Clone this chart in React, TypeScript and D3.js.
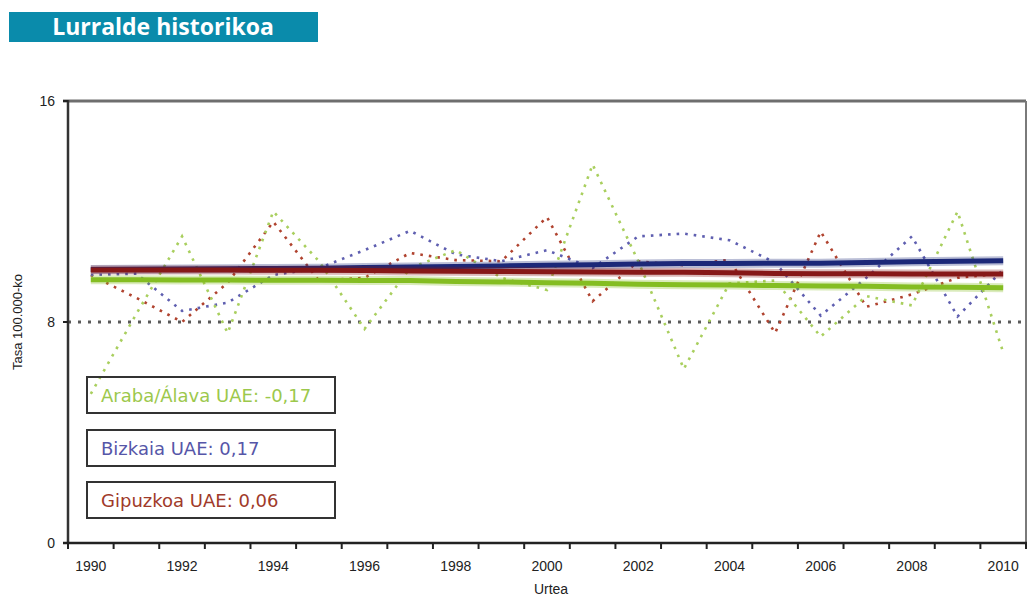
import React from "react";
import * as d3 from "d3";

const years = [1990,1991,1992,1993,1994,1995,1996,1997,1998,1999,2000,2001,2002,2003,2004,2005,2006,2007,2008,2009,2010];
const xTickLabels = [1990,1992,1994,1996,1998,2000,2002,2004,2006,2008,2010];
const yTickValues = [0, 8, 16];

const arabaRates = [5.4,8.3,11.1,7.6,12.0,10.2,7.75,9.95,10.6,9.6,9.16,13.7,10.2,6.3,9.4,9.5,7.47,8.94,8.6,12.0,6.9];
const bizkaiaRates = [9.7,9.75,8.4,8.7,9.7,9.95,10.6,11.3,10.45,10.2,10.6,9.95,11.1,11.2,10.96,10.15,8.23,9.6,11.1,8.2,9.9];
const gipuzkoaRates = [9.7,8.87,8.0,9.42,11.63,9.5,9.6,10.5,10.24,10.2,11.8,8.75,10.2,10.05,10.25,7.6,11.27,8.55,9.0,9.6,9.75];

const arabaTrend = [9.53,9.53,9.52,9.52,9.51,9.51,9.5,9.5,9.47,9.45,9.42,9.4,9.37,9.35,9.34,9.32,9.3,9.29,9.27,9.26,9.24];
const bizkaiaTrend = [9.9,9.91,9.92,9.93,9.94,9.95,9.97,9.99,10.01,10.03,10.05,10.07,10.1,10.12,10.12,10.13,10.13,10.15,10.18,10.2,10.22];
const gipuzkoaTrend = [9.88,9.88,9.88,9.88,9.87,9.87,9.86,9.85,9.84,9.83,9.82,9.81,9.8,9.8,9.78,9.76,9.75,9.75,9.74,9.74,9.74];

const referenceLevel = 8;

const legendLabels = ["Araba/Álava UAE: \u20110,17", "Bizkaia UAE: 0,17", "Gipuzkoa UAE: 0,06"];

const colors = {
  arabaDot: "#a9cf5e",
  bizkaiaDot: "#5f5fb0",
  gipuzkoaDot: "#b0432f",
  arabaTrend: "#84bd22",
  bizkaiaTrend: "#1c2878",
  gipuzkoaTrend: "#861818",
  arabaText: "#9cc84c",
  bizkaiaText: "#5656a8",
  gipuzkoaText: "#a03a2a",
};

export default function App() {
  const W = 1030, H = 597;
  const left = 68, right = 1026, top = 101, bottom = 543;
  const x = d3.scaleBand<number>().domain(years).range([left, right]).padding(0);
  const cx = (yr: number) => (x(yr) as number) + x.bandwidth() / 2;
  const y = d3.scaleLinear().domain([0, 16]).range([bottom, top]);
  const line = d3.line<number>().x((_, i) => cx(years[i])).y((d) => y(d));

  const boundaries = d3.range(years.length + 1).map((i) => left + i * x.bandwidth());

  const dotted = [
    { data: gipuzkoaRates, color: colors.gipuzkoaDot },
    { data: bizkaiaRates, color: colors.bizkaiaDot },
    { data: arabaRates, color: colors.arabaDot },
  ];
  const trends = [
    { data: arabaTrend, color: colors.arabaTrend },
    { data: bizkaiaTrend, color: colors.bizkaiaTrend },
    { data: gipuzkoaTrend, color: colors.gipuzkoaTrend },
  ];
  const legendColors = [colors.arabaText, colors.bizkaiaText, colors.gipuzkoaText];
  const legendTops = [377, 430, 482];

  return (
    <svg width={W} height={H} style={{ position: "absolute", left: 0, top: 0, background: "#fff" }}>
      <rect x={9} y={12} width={309} height={30} fill="#0a8bab" />
      <text x={163} y={35} textAnchor="middle" fill="#fff" fontFamily="'Open Sans', sans-serif" fontWeight={700} fontSize={23}>
        Lurralde historikoa
      </text>

      {/* frame */}
      <line x1={63} x2={right} y1={top} y2={top} stroke="#6e6e6e" strokeWidth={3} />
      <line x1={right} x2={right} y1={top} y2={bottom} stroke="#7a7a7a" strokeWidth={2} />

      {/* reference line */}
      <line x1={left} x2={right} y1={y(referenceLevel)} y2={y(referenceLevel)} stroke="#5a5a5a" strokeWidth={3} strokeDasharray="3 7" />

      {dotted.map((s, i) => (
        <path key={"d" + i} d={line(s.data) || ""} fill="none" stroke={s.color} strokeWidth={2.6} strokeDasharray="2.6 6" />
      ))}

      {trends.map((s, i) => (
        <g key={"t" + i}>
          <path d={line(s.data) || ""} fill="none" stroke={s.color} strokeOpacity={0.3} strokeWidth={9} strokeLinecap="butt" />
          <path d={line(s.data) || ""} fill="none" stroke={s.color} strokeWidth={5} strokeLinecap="butt" />
        </g>
      ))}

      {/* axes */}
      <line x1={left} x2={left} y1={top - 1} y2={bottom + 1} stroke="#333" strokeWidth={2.5} />
      <line x1={63} x2={right + 1} y1={bottom} y2={bottom} stroke="#222" strokeWidth={2.5} />
      {boundaries.map((b, i) => (
        <line key={"xt" + i} x1={b} x2={b} y1={bottom} y2={bottom + 6} stroke="#222" strokeWidth={2} />
      ))}
      {yTickValues.map((v) => (
        <g key={"yt" + v}>
          <line x1={left - 5} x2={left} y1={y(v)} y2={y(v)} stroke="#222" strokeWidth={2} />
          <text x={55} y={y(v) + 5} textAnchor="end" fontFamily="'Liberation Sans', Arial, sans-serif" fontSize={14} fill="#222">
            {v}
          </text>
        </g>
      ))}
      {xTickLabels.map((yr) => (
        <text key={"xl" + yr} x={cx(yr)} y={571} textAnchor="middle" fontFamily="'Liberation Sans', Arial, sans-serif" fontSize={14} fill="#222">
          {yr}
        </text>
      ))}
      <text x={551} y={594} textAnchor="middle" fontFamily="'Liberation Sans', Arial, sans-serif" fontSize={14} fill="#222">
        Urtea
      </text>
      <text transform={`translate(22, ${y(referenceLevel)}) rotate(-90)`} textAnchor="middle" fontFamily="'Liberation Sans', Arial, sans-serif" fontSize={13} fill="#222">
        Tasa 100.000-ko
      </text>

      {legendLabels.map((lab, i) => (
        <g key={"lg" + i}>
          <rect x={87} y={legendTops[i]} width={248} height={36} fill="none" stroke="#333" strokeWidth={2} />
          <text x={101} y={legendTops[i] + 25} fontFamily="'DejaVu Sans', sans-serif" fontSize={18} fill={legendColors[i]}>
            {lab}
          </text>
        </g>
      ))}
    </svg>
  );
}
